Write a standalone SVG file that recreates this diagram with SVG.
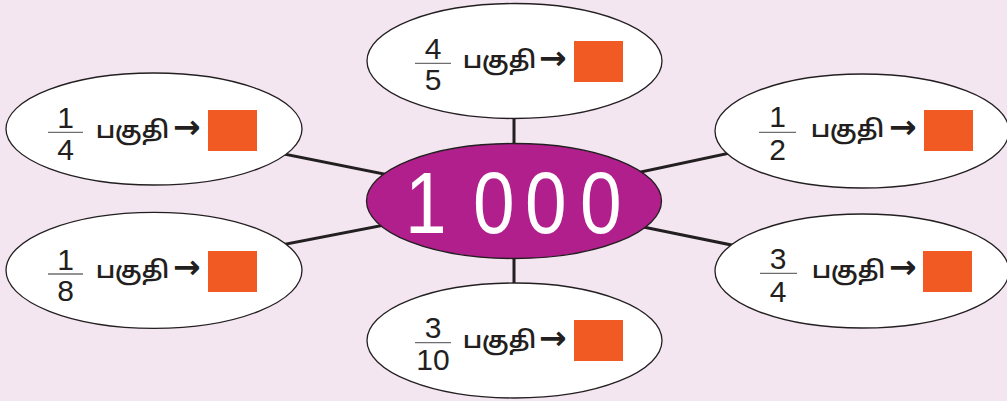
<svg xmlns="http://www.w3.org/2000/svg" width="1007" height="401" viewBox="0 0 1007 401">
<style>
.bg{fill:#F3E6F1}
.node{fill:#FFFFFF;stroke:#231F20;stroke-width:1.3}
.hub{fill:#B01F8C;stroke:#231F20;stroke-width:1.3}
.conn{stroke:#231F20;stroke-width:3;fill:none}
.num{font-family:"Liberation Sans","DejaVu Sans",sans-serif;font-size:30px;fill:#231F20;text-anchor:middle}
.bar{stroke:#6D6E71;stroke-width:1.3}
.ta{font-family:"Noto Sans Tamil","Noto Sans","Lohit Tamil","DejaVu Sans",sans-serif;font-size:23.5px;font-weight:600;fill:#231F20}
.arr{font-family:"DejaVu Sans",sans-serif;font-size:33px;font-weight:bold;fill:#231F20}
.box{fill:#F15A22}
.big{font-family:"Liberation Sans","DejaVu Sans",sans-serif;font-size:88px;fill:#FFFFFF}
</style>
<rect class="bg" x="0" y="0" width="1007" height="401"/>
<g id="connectors">
<line class="conn" x1="514" y1="200" x2="514" y2="61"/>
<line class="conn" x1="514" y1="200" x2="514" y2="340"/>
<line class="conn" x1="514" y1="200" x2="154" y2="128"/>
<line class="conn" x1="514" y1="200" x2="154" y2="269.5"/>
<line class="conn" x1="514" y1="199" x2="862" y2="125"/>
<line class="conn" x1="514" y1="200.6" x2="862" y2="271.6"/>
</g>
<g id="node-top">
<ellipse class="node" cx="514.5" cy="61" rx="147.5" ry="57.5"/>
<text class="num" x="433" y="59">4</text>
<line class="bar" x1="415" y1="63.3" x2="451" y2="63.3"/>
<text class="num" x="433" y="90">5</text>
<text class="ta" x="463" y="68.3">பகுதி</text>
<text class="arr" x="539" y="68.5">→</text>
<rect class="box" x="574" y="41" width="49" height="41"/>
</g>
<g id="node-bottom">
<ellipse class="node" cx="514.5" cy="340.5" rx="147.5" ry="57.5"/>
<text class="num" x="433" y="338.3">3</text>
<line class="bar" x1="415" y1="342.7" x2="451" y2="342.7"/>
<text class="num" x="433" y="370">10</text>
<text class="ta" x="463" y="348.3">பகுதி</text>
<text class="arr" x="539" y="348.5">→</text>
<rect class="box" x="574" y="320" width="49" height="41"/>
</g>
<g id="node-upper-left">
<ellipse class="node" cx="154" cy="129" rx="148" ry="56"/>
<text class="num" x="65.5" y="128">1</text>
<line class="bar" x1="48" y1="132.3" x2="83" y2="132.3"/>
<text class="num" x="65.5" y="160">4</text>
<text class="ta" x="96" y="138">பகுதி</text>
<text class="arr" x="173" y="137.5">→</text>
<rect class="box" x="208" y="110" width="49" height="41"/>
</g>
<g id="node-lower-left">
<ellipse class="node" cx="154" cy="270.3" rx="148" ry="58"/>
<text class="num" x="65.5" y="270">1</text>
<line class="bar" x1="48" y1="274" x2="83" y2="274"/>
<text class="num" x="65.5" y="300.7">8</text>
<text class="ta" x="96" y="277.7">பகுதி</text>
<text class="arr" x="173" y="278">→</text>
<rect class="box" x="208" y="251" width="49" height="41"/>
</g>
<g id="node-upper-right">
<ellipse class="node" cx="862" cy="131" rx="147" ry="57"/>
<text class="num" x="777.5" y="126.7">1</text>
<line class="bar" x1="759" y1="132.3" x2="796" y2="132.3"/>
<text class="num" x="777.5" y="160">2</text>
<text class="ta" x="811" y="136.7">பகுதி</text>
<text class="arr" x="889" y="137.5">→</text>
<rect class="box" x="924" y="110" width="49" height="41"/>
</g>
<g id="node-lower-right">
<ellipse class="node" cx="862" cy="271" rx="147" ry="57"/>
<text class="num" x="778" y="269.3">3</text>
<line class="bar" x1="760" y1="273.3" x2="797" y2="273.3"/>
<text class="num" x="778" y="301.7">4</text>
<text class="ta" x="812" y="278.3">பகுதி</text>
<text class="arr" x="889" y="277.5">→</text>
<rect class="box" x="923" y="251" width="49" height="41"/>
</g>
<g id="node-center">
<ellipse class="hub" cx="514" cy="201" rx="147.5" ry="57.5"/>
<text class="big" transform="translate(0 232.7) scale(0.85 1)" x="476.5 540 556.5 617.6 682.4" y="0">1 000</text>
</g>
</svg>
